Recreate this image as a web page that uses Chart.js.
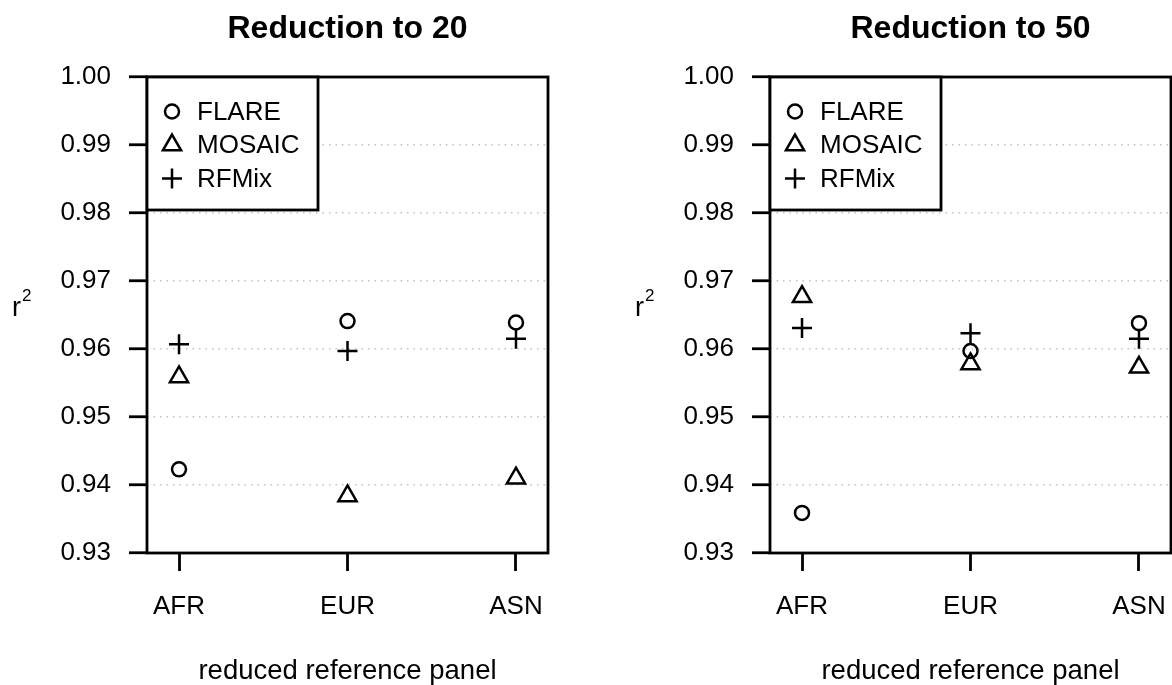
<!DOCTYPE html>
<html>
<head>
<meta charset="utf-8">
<script src="https://cdn.jsdelivr.net/npm/chart.js@4.4.1/dist/chart.umd.min.js"></script>
<style>
  html, body { margin:0; padding:0; background:#fff; overflow:hidden; width:1172px; height:685px; }
  .wrap { position:absolute; top:0; width:586px; height:685px; }
  #w1 { left:0; }
  #w2 { left:623px; }
</style>
</head>
<body>
<div class="wrap" id="w1"><canvas id="c1" width="586" height="685"></canvas></div>
<div class="wrap" id="w2"><canvas id="c2" width="586" height="685"></canvas></div>
<script>
// ---- data ----
const categories = ['AFR', 'EUR', 'ASN'];
const seriesNames = ['FLARE', 'MOSAIC', 'RFMix'];
const yTickValues = [0.93, 0.94, 0.95, 0.96, 0.97, 0.98, 0.99, 1.00];
const titles = ['Reduction to 20', 'Reduction to 50'];

const r20Flare  = [0.9423, 0.9641, 0.9639];
const r20Mosaic = [0.9559, 0.9384, 0.9410];
const r20Rfmix  = [0.9607, 0.9597, 0.9615];

const r50Flare  = [0.9359, 0.9597, 0.9638];
const r50Mosaic = [0.9677, 0.9578, 0.9573];
const r50Rfmix  = [0.9631, 0.9623, 0.9615];

// ---- styling ----
const FONT = "'Liberation Sans', Arial, Helvetica, sans-serif";
const styles = [
  { pointStyle: 'circle',   radius: 7 },
  { pointStyle: 'triangle', radius: 10.5 },
  { pointStyle: 'cross',    radius: 10 }
];

function toPoints(arr) {
  return arr.map((v, i) => ({ x: i + 1, y: v }));
}

const boxPlugin = {
  id: 'boxPlugin',
  afterDatasetsDraw(chart) {
    const { ctx, chartArea: a } = chart;
    ctx.save();
    ctx.strokeStyle = '#000';
    ctx.lineWidth = 2.8;
    ctx.strokeRect(a.left, a.top, a.right - a.left, a.bottom - a.top);
    ctx.restore();
  }
};

const legendPlugin = {
  id: 'boxLegend',
  afterDraw(chart) {
    const { ctx, chartArea: a } = chart;
    const w = 171, h = 133;
    ctx.save();
    ctx.fillStyle = '#fff';
    ctx.fillRect(a.left, a.top, w, h);
    ctx.strokeStyle = '#000';
    ctx.lineWidth = 2.8;
    ctx.strokeRect(a.left, a.top, w, h);
    chart.data.datasets.forEach((ds, i) => {
      const y = a.top + 34.5 + i * 33.5;
      ctx.strokeStyle = '#000';
      ctx.fillStyle = 'rgba(0,0,0,0)';
      ctx.lineWidth = 2.5;
      Chart.helpers.drawPoint(ctx, {
        pointStyle: ds.pointStyle, radius: ds.pointRadius, borderWidth: 2.5, rotation: 0
      }, a.left + 25, y);
      ctx.fillStyle = '#000';
      ctx.font = '26px ' + FONT;
      ctx.textBaseline = 'middle';
      ctx.textAlign = 'left';
      ctx.fillText(ds.label, a.left + 50, y + 1);
    });
    // y-axis title r^2 (horizontal)
    ctx.fillStyle = '#000';
    ctx.textBaseline = 'alphabetic';
    ctx.textAlign = 'left';
    ctx.font = '27px ' + FONT;
    ctx.fillText('r', 12, 316);
    ctx.font = '17px ' + FONT;
    ctx.fillText('2', 22, 301);
    ctx.restore();
  }
};

function makeChart(canvasId, title, flare, mosaic, rfmix) {
  const seriesData = [flare, mosaic, rfmix];
  const datasets = seriesData.map((arr, i) => ({
    label: seriesNames[i],
    data: toPoints(arr),
    pointStyle: styles[i].pointStyle,
    pointRadius: styles[i].radius,
    pointHoverRadius: styles[i].radius,
    pointBorderWidth: 2.5,
    borderColor: '#000',
    backgroundColor: 'rgba(0,0,0,0)',
    showLine: false
  }));
  return new Chart(document.getElementById(canvasId), {
    type: 'scatter',
    data: { datasets },
    plugins: [boxPlugin, legendPlugin],
    options: {
      responsive: false,
      animation: false,
      events: [],
      layout: { padding: { left: 0, right: 38, top: 0, bottom: 0 } },
      plugins: {
        legend: { display: false },
        tooltip: { enabled: false },
        title: {
          display: true,
          text: title,
          color: '#000',
          fullSize: false,
          font: { family: FONT, size: 32, weight: 'bold', lineHeight: 1.2 },
          padding: { top: 10, bottom: 28.6 }
        }
      },
      scales: {
        x: {
          type: 'linear',
          min: 0.81, max: 3.19,
          afterBuildTicks(scale) { scale.ticks = categories.map((c, i) => ({ value: i + 1 })); },
          afterFit(scale) { scale.height = 132; },
          ticks: {
            color: '#000',
            font: { family: FONT, size: 26 },
            padding: 20,
            autoSkip: false,
            maxRotation: 0,
            callback: (v) => categories[Math.round(v) - 1]
          },
          grid: {
            drawOnChartArea: false,
            drawTicks: true,
            tickLength: 18,
            tickWidth: 2.8,
            tickColor: '#000'
          },
          border: { display: false },
          title: {
            display: true,
            text: 'reduced reference panel',
            color: '#000',
            font: { family: FONT, size: 27.5, lineHeight: 1.0 },
            padding: { top: 0, bottom: 0 }
          }
        },
        y: {
          type: 'linear',
          min: 0.93, max: 1.00,
          afterBuildTicks(scale) { scale.ticks = yTickValues.map(v => ({ value: v })); },
          afterFit(scale) { scale.width = 147; },
          ticks: {
            color: '#000',
            font: { family: FONT, size: 26 },
            padding: 18,
            callback: (v) => Number(v).toFixed(2)
          },
          grid: {
            drawOnChartArea: true,
            drawTicks: true,
            tickLength: 18,
            tickWidth: 2.8,
            tickColor: '#000',
            tickBorderDash: [],
            lineWidth: 1.5,
            color: (ctx) => {
              const v = ctx.tick ? ctx.tick.value : null;
              if (v === null) return 'rgba(0,0,0,0)';
              if (Math.abs(v - 0.93) < 1e-6 || Math.abs(v - 1.0) < 1e-6) return 'rgba(0,0,0,0)';
              return '#c4c4c4';
            }
          },
          border: { display: false, dash: [1.5, 5] }
        }
      }
    }
  });
}

makeChart('c1', titles[0], r20Flare, r20Mosaic, r20Rfmix);
makeChart('c2', titles[1], r50Flare, r50Mosaic, r50Rfmix);
</script>
</body>
</html>
